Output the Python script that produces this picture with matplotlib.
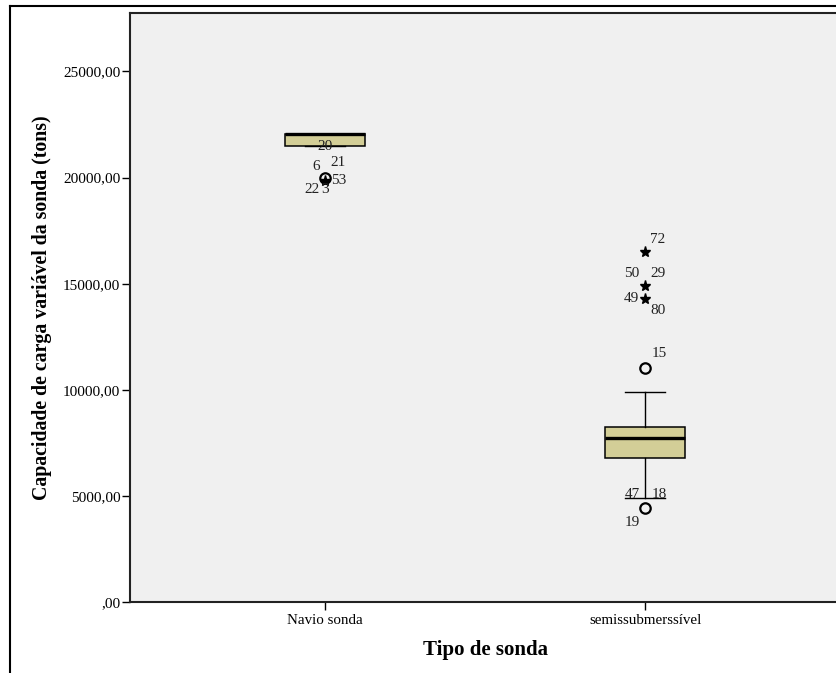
import matplotlib
matplotlib.use("Agg")
import matplotlib.pyplot as plt
from matplotlib.lines import Line2D

plt.rcParams['font.family'] = ['Liberation Serif', 'DejaVu Serif']

categories = ["Navio sonda", "semissubmerssível"]
q1 = [21470, 6770]
median = [22035, 7710]
q3 = [22035, 8255]
whisker_low = [21470, 4880]
whisker_high = [22035, 9900]

# outliers: (category index, value)
circle_cat = [0, 1, 1]
circle_val = [20000, 11030, 4410]
star_cat = [0, 1, 1, 1]
star_val = [19820, 16490, 14880, 14300]

# case labels: (category index, value, text)
label_cat = [0, 0, 0, 0, 0, 0, 1, 1, 1, 1, 1, 1, 1, 1, 1]
label_val = [21470, 20000, 20000, 20000, 20000, 20000,
             16490, 14880, 14880, 14300, 14300, 11030, 4410, 4410, 4410]
label_txt = ["20", "6", "21", "53", "22", "3",
             "72", "50", "29", "49", "80", "15", "47", "18", "19"]
label_off = [(0, 0), (-9, 11), (13, 15), (14, -3), (-13, -12), (0, -12),
             (13, 13), (-13, 13), (13, 13), (-14, 0), (13, -12), (14, 14),
             (-13, 14), (14, 14), (-13, -14)]

yticks = [0, 5000, 10000, 15000, 20000, 25000]
ytick_labels = [",00", "5000,00", "10000,00", "15000,00", "20000,00", "25000,00"]

fig = plt.figure(figsize=(8.37, 6.73), dpi=100)
fig.patch.set_facecolor("white")
ax = fig.add_axes([130/837, 71/673, 1 - 130/837 + 0.004, (602 - 12.5)/673])
ax.set_facecolor("#F0F0F0")

stats = []
for i in range(len(categories)):
    stats.append(dict(med=median[i], q1=q1[i], q3=q3[i],
                      whislo=whisker_low[i], whishi=whisker_high[i], fliers=[]))

ax.bxp(stats, positions=range(len(categories)), widths=0.25, patch_artist=True,
       showfliers=False,
       boxprops=dict(facecolor="#D3CE97", edgecolor="black", linewidth=1.1),
       medianprops=dict(color="black", linewidth=2.4),
       whiskerprops=dict(color="black", linewidth=1.0),
       capprops=dict(color="black", linewidth=1.0),
       capwidths=0.125)

ax.plot(circle_cat, circle_val, linestyle="none", marker="o", markersize=7.5,
        markerfacecolor="none", markeredgecolor="black", markeredgewidth=1.6, zorder=5)
ax.plot(star_cat, star_val, linestyle="none", marker="*", markersize=8,
        color="black", zorder=5)

for c, v, t, off in zip(label_cat, label_val, label_txt, label_off):
    ax.annotate(t, (c, v), xytext=off, textcoords="offset pixels",
                ha="center", va="center", fontsize=11, color="#222222", zorder=6)

ax.set_xlim(-0.609, 1.61)
ax.set_ylim(0, 27780)
ax.set_xticks(range(len(categories)))
ax.set_xticklabels(categories, fontsize=10.8)
ax.set_yticks(yticks)
ax.set_yticklabels(ytick_labels, fontsize=11)
ax.tick_params(axis="both", direction="out", length=6, width=1.0, color="black")
ax.tick_params(axis="x", pad=3)
ax.tick_params(axis="y", pad=1)

for s in ["right"]:
    ax.spines[s].set_visible(False)
for s in ["left", "bottom", "top"]:
    ax.spines[s].set_linewidth(1.5)
    ax.spines[s].set_color("#222222")

ax.set_ylabel("Capacidade de carga variável da sonda (tons)", fontsize=14.3,
              fontweight="bold", labelpad=8)
ax.set_xlabel("Tipo de sonda", fontsize=15, fontweight="bold", labelpad=9)

# outer frame
fig.add_artist(Line2D([10/837, 10/837], [0, 1 - 6/673], color="black", linewidth=1.5,
                      transform=fig.transFigure))
fig.add_artist(Line2D([10/837, 1], [1 - 6/673, 1 - 6/673], color="black", linewidth=1.5,
                      transform=fig.transFigure))

fig.savefig("out.png", dpi=100)
